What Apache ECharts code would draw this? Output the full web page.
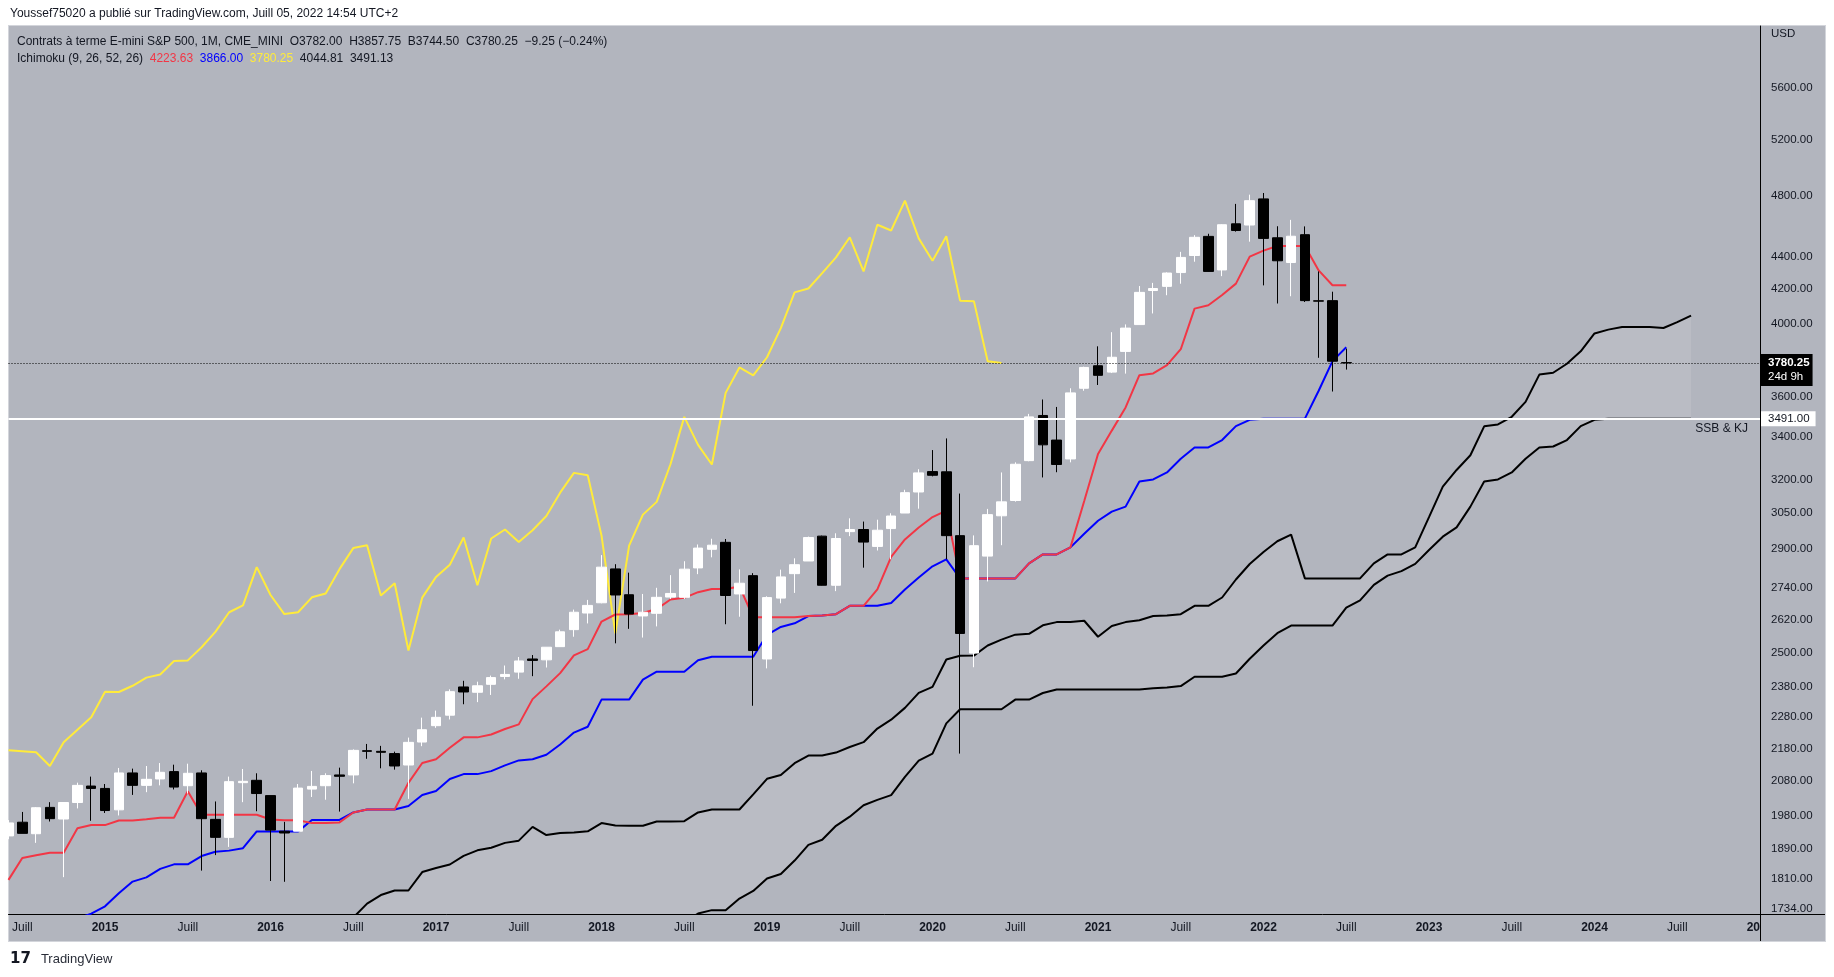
<!DOCTYPE html>
<html><head><meta charset="utf-8">
<script src="https://cdn.jsdelivr.net/npm/echarts@6/dist/echarts.min.js"></script>
<style>
html,body{margin:0;padding:0;background:#ffffff;width:1834px;height:977px;overflow:hidden;}
#pane{position:absolute;left:9px;top:26px;width:1816px;height:915px;background:#b2b5be;box-shadow:0 0 0 1px #d3d5db;}
#chart{position:absolute;left:0;top:0;width:1834px;height:977px;}
#hline{position:absolute;left:1760px;top:913.5px;width:65px;height:1px;background:#000;}
#vline{position:absolute;left:1759.5px;top:914px;width:1px;height:27px;background:#000;}
</style></head>
<body><div id="pane"></div><div id="hline"></div><div id="vline"></div><div id="chart"></div>
<script>
const categories = [
'2014-06','2014-07','2014-08','2014-09','2014-10','2014-11','2014-12',
'2015-01','2015-02','2015-03','2015-04','2015-05','2015-06','2015-07','2015-08','2015-09','2015-10','2015-11','2015-12',
'2016-01','2016-02','2016-03','2016-04','2016-05','2016-06','2016-07','2016-08','2016-09','2016-10','2016-11','2016-12',
'2017-01','2017-02','2017-03','2017-04','2017-05','2017-06','2017-07','2017-08','2017-09','2017-10','2017-11','2017-12',
'2018-01','2018-02','2018-03','2018-04','2018-05','2018-06','2018-07','2018-08','2018-09','2018-10','2018-11','2018-12',
'2019-01','2019-02','2019-03','2019-04','2019-05','2019-06','2019-07','2019-08','2019-09','2019-10','2019-11','2019-12',
'2020-01','2020-02','2020-03','2020-04','2020-05','2020-06','2020-07','2020-08','2020-09','2020-10','2020-11','2020-12',
'2021-01','2021-02','2021-03','2021-04','2021-05','2021-06','2021-07','2021-08','2021-09','2021-10','2021-11','2021-12',
'2022-01','2022-02','2022-03','2022-04','2022-05','2022-06','2022-07','2022-08','2022-09','2022-10','2022-11','2022-12',
'2023-01','2023-02','2023-03','2023-04','2023-05','2023-06','2023-07','2023-08','2023-09','2023-10','2023-11','2023-12',
'2024-01','2024-02','2024-03','2024-04','2024-05','2024-06','2024-07','2024-08','2024-09','2024-10','2024-11','2024-12',
'2025-01'];

const openP = [
1924,1962,1930,2004,1971,2018,2066,2059,1997,2105,
2068,2087,2109,2067,2105,1970,1920,2076,2083,2038,
1937,1937,2057,2067,2099,2099,2173,2171,2164,2129,
2200,2252,2286,2380,2362,2389,2416,2431,2477,2474,
2521,2583,2645,2684,2817,2715,2634,2644,2706,2705,
2821,2897,2926,2718,2790,2477,2702,2798,2849,2952,
2752,2971,2980,2909,2984,3051,3144,3237,3236,2954,
2498,2869,3039,3106,3288,3507,3386,3296,3646,3765,
3731,3843,3993,4192,4217,4301,4407,4529,4317,4611,
4603,4778,4520,4363,4540,4131,4132,3782];
const highP = [
1968,1991,2005,2019,2018,2076,2094,2072,2120,2118,
2126,2135,2130,2133,2113,2021,2094,2117,2104,2038,
1963,2072,2111,2104,2121,2177,2194,2188,2170,2214,
2278,2301,2372,2401,2398,2419,2454,2484,2491,2519,
2583,2658,2695,2873,2836,2802,2718,2742,2792,2848,
2917,2941,2940,2815,2800,2709,2814,2860,2950,2954,
2964,3028,3014,3022,3050,3154,3248,3338,3394,3137,
2955,3069,3233,3280,3515,3588,3550,3646,3760,3871,
3950,3994,4219,4238,4302,4430,4537,4546,4608,4744,
4807,4818.5,4595,4637,4594,4308,4185,3857.75];
const lowP = [
1915,1931,1905,1964,1814,2001,1966,1988,1981,2040,
2048,2068,2056,2044,1831,1872,1894,2019,1993,1804,
1802,1937,2034,2026,1992,2074,2148,2119,2115,2028.5,
2187,2245,2272,2322,2329,2353,2406,2408,2417,2447,
2520,2557,2606,2682,2533,2586,2554,2595,2699,2699,
2796,2864,2603,2631,2317,2444,2682,2722,2849,2751,
2729,2952,2822,2892,2856,3051,3070,3215,2856,2164,
2448,2767,2914,3101,3285,3210,3234,3280,3633,3663,
3726,3723,3993,4057,4164,4233,4368,4306,4279,4560,
4495,4223,4115,4158,4124,3808,3629,3744.5];
const closeP = [
1960,1931,2003,1972,2018,2068,2059,1995,2105,2068,
2086,2107,2063,2104,1972,1920,2079,2080,2044,1940,
1932,2060,2065,2097,2095,2174,2171,2168,2126,2199,
2239,2279,2364,2363,2384,2412,2423,2470,2472,2519,
2575,2648,2674,2824,2714,2641,2648,2705,2720,2816,
2902,2914,2712,2760,2507,2704,2785,2834,2946,2752,
2942,2980,2927,2977,3038,3141,3231,3220,2954,2569,
2912,3044,3100,3271,3500,3363,3270,3622,3756,3714,
3811,3973,4181,4204,4298,4395,4523,4308,4605,4567,
4766,4516,4374,4530,4132,4129,3789.5,3780.25];

// Ichimoku (9, 26, 52, 26) lines
const tenkan = [
1807,1864.5,1871.5,1878.5,1878.5,1945,1954,1954,1967,1967,
1970,1974.5,1974.5,2050.5,1983,1983,1983,1983,1983,1969.5,
1967.5,1967.5,1959.5,1959.5,1961.5,1989.5,1998,1998,1998,2075.5,
2135,2146.5,2182,2214.75,2214.75,2223.75,2241.25,2256.25,2339,2382,
2427.5,2490,2512,2613,2639.5,2640.5,2645,2660,2696.5,2703,
2725,2737,2737,2747.5,2629,2629,2629,2629,2633.5,2635.5,
2640.5,2672.5,2672.5,2736,2866,2938,2988.5,3033.5,3061.5,2779,
2779,2779,2779,2779,2839.5,2876,2876,2905,3104,3319,
3432,3547.5,3714.5,3724,3768,3855,4085,4104.5,4165.5,4233.5,
4400,4437.75,4466.75,4466.75,4466.75,4314.25,4223.75,4223.63];
const kijun = [
1617.5,1629,1665,1681,1681,1709.5,1722,1740,1773,1802.5,
1813.5,1835.5,1847.5,1847.5,1869.5,1881,1884,1890.5,1936.5,1936.5,
1936.5,1936.5,1968.5,1968.5,1968.5,1989.5,1998,1998,1998,2008,
2040,2051.5,2087,2101.5,2101.5,2110.5,2128,2143,2146.5,2160.5,
2192.5,2230,2248.5,2337.5,2337.5,2337.5,2405,2432.5,2432.5,2432.5,
2472.75,2484.75,2484.75,2484.75,2484.75,2564,2593,2606.5,2633.5,2635.5,
2640.5,2672.5,2672.5,2672.5,2683.5,2735.5,2782.5,2827.5,2855.5,2779,
2779,2779,2779,2779,2839.5,2876,2876,2905,2962,3017.5,
3057,3079,3191.5,3201,3233,3297,3350.5,3350.5,3386,3454,
3485.5,3491,3491,3491,3491,3633,3790,3866];
const chikouStart = '2014-06';
const chikou = [
2174,2171,2168,2126,2199,2239,2279,2364,2363,2384,
2412,2423,2470,2472,2519,2575,2648,2674,2824,2714,
2641,2648,2705,2720,2816,2902,2914,2712,2760,2507,
2704,2785,2834,2946,2752,2942,2980,2927,2977,3038,
3141,3231,3220,2954,2569,2912,3044,3100,3271,3500,
3363,3270,3622,3756,3714,3811,3973,4181,4204,4298,
4395,4523,4308,4605,4567,4766,4516,4374,4530,4132,
4129,3789.5,3780.25];
const senkouAStart = '2016-07';
const senkouA = [
1712.25,1746.75,1768.25,1779.75,1779.75,1827.25,1838,1847,1870,1884.75,
1891.75,1905,1911,1949,1926.25,1932,1933.5,1936.75,1959.75,1953,
1952,1952,1964,1964,1965,1989.5,1998,1998,1998,2041.75,
2087.5,2099,2134.5,2158.1,2158.1,2167.1,2184.6,2199.6,2242.75,2271.25,
2310,2360,2380.25,2475.25,2488.5,2489,2525,2546.25,2564.5,2567.75,
2598.9,2610.9,2610.9,2616.1,2556.9,2596.5,2611,2617.75,2633.5,2635.5,
2640.5,2672.5,2672.5,2704.25,2774.75,2836.75,2885.5,2930.5,2958.5,2779,
2779,2779,2779,2779,2839.5,2876,2876,2905,3033,3168.25,
3244.5,3313.25,3453,3462.5,3500.5,3576,3717.75,3727.5,3775.75,3843.75,
3942.75,3964.4,3978.9,3978.9,3978.9,3973.6,4006.9,4044.81];
const senkouBStart = '2018-07';
const senkouB = [
1701,1722,1730.5,1730.5,1759.5,1778.5,1810.5,1822,1857.5,1899.5,
1913.5,1952,1977.5,2010,2025.5,2039.5,2093.5,2142.5,2164,2259.5,
2305.5,2305.5,2305.5,2305.5,2337.5,2337.5,2359.5,2371.5,2371.5,2371.5,
2371.5,2371.5,2371.5,2371.5,2376,2378,2383,2415,2415,2415,
2426,2478,2525,2570,2598,2598,2598,2598,2665.5,2693,
2753.5,2790,2808.25,2837.25,2894.25,2949.75,2989.25,3079,3191.5,3201,
3233,3297,3350.5,3355,3386,3454,3485.5,3491.13,3491.13,3491.13,
3491.13,3491.13,3491.13,3491.13];

const priceTicks = [1734,1810,1890,1980,2080,2180,2280,2380,2500,2620,2740,2900,3050,3200,3400,3600,4000,4200,4400,4800,5200,5600];
const lastClose = 3780.25;
const countdown = '24d 9h';
const levelSSBKJ = 3491.00;
const legendValues = {tenkan:'4223.63', kijun:'3866.00', chikou:'3780.25', spanA:'4044.81', spanB:'3491.13'};

function pad(startMonth, arr) {
  const off = categories.indexOf(startMonth);
  const out = [];
  for (let i = 0; i < off; i++) out.push(null);
  return out.concat(arr);
}

const FONT = "'Liberation Sans', Arial, sans-serif";
const TXT = '#131722';
const chart = echarts.init(document.getElementById('chart'), null, {renderer: 'canvas'});

const candleData = openP.map((o, i) => [o, closeP[i], lowP[i], highP[i]]);

const tickMarks = priceTicks.map(v => ({
  yAxis: v,
  lineStyle: {color: 'rgba(0,0,0,0)', width: 0},
  label: {show: true, position: 'end', distance: 11, formatter: v.toFixed(2), color: TXT, fontSize: 11.5, fontFamily: FONT}
}));

const option = {
  animation: false,
  backgroundColor: 'transparent',
  textStyle: {fontFamily: FONT},
  title: [
    {text: 'Youssef75020 a publié sur TradingView.com, Juill 05, 2022 14:54 UTC+2', left: 10, top: 7, padding: 0,
     textStyle: {fontSize: 12, fontWeight: 'normal', color: TXT, fontFamily: FONT, lineHeight: 14}},
    {text: 'Contrats à terme E-mini S&P 500, 1M, CME_MINI  O3782.00  H3857.75  B3744.50  C3780.25  −9.25 (−0.24%)', left: 17, top: 35, padding: 0,
     textStyle: {fontSize: 12, fontWeight: 'normal', color: TXT, fontFamily: FONT, lineHeight: 14}},
    {text: '{d|Ichimoku (9, 26, 52, 26)}  {r|' + legendValues.tenkan + '}  {b|' + legendValues.kijun + '}  {y|' + legendValues.chikou + '}  {d|' + legendValues.spanA + '}  {d|' + legendValues.spanB + '}',
     left: 17, top: 52, padding: 0,
     textStyle: {fontSize: 12, fontWeight: 'normal', fontFamily: FONT, lineHeight: 14,
       rich: {d: {color: TXT, fontSize: 12, fontFamily: FONT}, r: {color: '#f23645', fontSize: 12, fontFamily: FONT},
              b: {color: '#0000ff', fontSize: 12, fontFamily: FONT}, y: {color: '#ffeb3b', fontSize: 12, fontFamily: FONT}}}},
    {text: 'USD', left: 1771, top: 27, padding: 0, textStyle: {fontSize: 11.5, fontWeight: 'normal', color: TXT, fontFamily: FONT, lineHeight: 14}},
    {text: '{l|17}  {t|TradingView}', left: 10, top: 950, padding: 0,
     textStyle: {fontWeight: 'normal',
       rich: {l: {fontSize: 15, fontWeight: 900, color: TXT, fontFamily: "'DejaVu Sans', sans-serif"},
              t: {fontSize: 13, fontWeight: 'normal', color: '#2a2e39', fontFamily: FONT}}}}
  ],
  grid: {left: 8.5, right: 74, top: 26, bottom: 63, outerBoundsMode: 'none', containLabel: false},
  xAxis: {
    type: 'category', data: categories, boundaryGap: false,
    axisLine: {show: true, lineStyle: {color: '#000', width: 1}},
    axisTick: {show: false}, splitLine: {show: false},
    axisLabel: {
      color: TXT, fontSize: 12, fontFamily: FONT, margin: 8, alignMaxLabel: 'right',
      interval: (idx, val) => { const m = val.slice(5); return m === '01' || m === '07'; },
      formatter: (val) => { const y = val.slice(0, 4), m = val.slice(5);
        if (m === '01') return '{y|' + (y === '2025' ? '20' : y) + '}';
        if (m === '07') return 'Juill'; return ''; },
      rich: {y: {fontWeight: 'bold', fontSize: 12, color: TXT, fontFamily: FONT}}
    }
  },
  yAxis: {
    type: 'log', logBase: 10, min: 1721, max: 6116, position: 'right',
    axisLine: {show: true, lineStyle: {color: '#000', width: 1}},
    axisTick: {show: false}, axisLabel: {show: false}, splitLine: {show: false}
  },
  series: [
    {name: 'cloudA', type: 'line', data: pad(senkouAStart, senkouA), symbol: 'none', silent: true, z: 1,
     lineStyle: {width: 0, color: 'rgba(0,0,0,0)'}, areaStyle: {color: '#babcc4', opacity: 1, origin: 'start'}},
    {name: 'cloudB', type: 'line', data: pad(senkouBStart, senkouB), symbol: 'none', silent: true, z: 1,
     lineStyle: {width: 0, color: 'rgba(0,0,0,0)'}, areaStyle: {color: '#b2b5be', opacity: 1, origin: 'start'}},
    {name: 'Senkou A', type: 'line', data: pad(senkouAStart, senkouA), symbol: 'none', silent: true, z: 2,
     lineStyle: {width: 2, color: '#000000'}},
    {name: 'Senkou B', type: 'line', data: pad(senkouBStart, senkouB), symbol: 'none', silent: true, z: 2,
     lineStyle: {width: 2, color: '#000000'}},
    {name: 'Chikou', type: 'line', data: pad(chikouStart, chikou), symbol: 'none', silent: true, z: 2,
     lineStyle: {width: 2, color: '#ffeb3b'}},
    {name: 'Kijun', type: 'line', data: kijun, symbol: 'none', silent: true, z: 2,
     lineStyle: {width: 2, color: '#0000ff'}},
    {name: 'Tenkan', type: 'line', data: tenkan, symbol: 'none', silent: true, z: 2,
     lineStyle: {width: 2, color: '#f23645'}},
    {name: 'ES', type: 'candlestick', data: candleData, barWidth: 10, z: 3, silent: true,
     itemStyle: {color: '#ffffff', color0: '#000000', borderColor: '#ffffff', borderColor0: '#000000', borderWidth: 1},
     markLine: {
       silent: true, symbol: ['none', 'none'], animation: false,
       data: tickMarks.concat([
         {yAxis: lastClose, lineStyle: {type: [1, 2], color: '#000000', width: 1},
          label: {show: true, position: 'end', distance: 1, offset: [0, 7],
                  formatter: '{a|' + lastClose.toFixed(2) + '}\n{b|' + countdown + '}',
                  backgroundColor: '#000000', padding: [2, 3, 2, 7],
                  rich: {a: {color: '#ffffff', fontWeight: 'bold', fontSize: 11.5, lineHeight: 14, fontFamily: FONT},
                         b: {color: '#ffffff', fontSize: 11.5, lineHeight: 14, fontFamily: FONT}}}},
         {yAxis: levelSSBKJ, lineStyle: {type: 'solid', color: '#ffffff', width: 2},
          label: {show: true, position: 'end', distance: 1, formatter: levelSSBKJ.toFixed(2),
                  backgroundColor: '#ffffff', color: TXT, padding: [2, 6, 1, 7], fontSize: 11.5, fontFamily: FONT}},
         {yAxis: levelSSBKJ, lineStyle: {color: 'rgba(0,0,0,0)', width: 0},
          label: {show: true, position: 'insideEndBottom', distance: [12, 4], formatter: 'SSB & KJ',
                  color: TXT, fontSize: 12, fontFamily: FONT}}
       ])
     }}
  ]
};
chart.setOption(option);
</script></body></html>
